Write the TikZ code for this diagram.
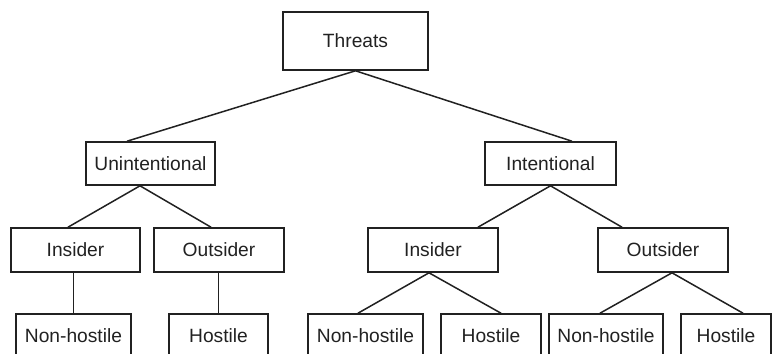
\documentclass[tikz,border=0pt]{standalone}
\usepackage{fontspec}
\setmainfont{Liberation Sans}
\usetikzlibrary{calc}
\definecolor{ink}{gray}{0.13}
\begin{document}
\begin{tikzpicture}[x=0.5pt,y=-0.5pt,
  bx/.style 2 args={draw=ink, text=ink, line width=0.8pt, inner sep=0pt,
    minimum width=#1*0.5pt, minimum height=#2*0.5pt,
    font=\fontsize{9.6pt}{11pt}\selectfont},
  link/.style={draw=ink, line width=0.75pt}]
\useasboundingbox (0,0) rectangle (773,354);
\clip (0,0) rectangle (773,354);
% root
\node[bx={145}{58}] (T) at (355.5,41) {Threats};
% second level
\node[bx={129}{43}] (U) at (150.5,163.5) {Unintentional};
\node[bx={131}{43}] (I) at (550.5,163.5) {Intentional};
% third level
\node[bx={129}{44}] (UI) at (75.5,250) {Insider};
\node[bx={130}{44}] (UO) at (219,250) {Outsider};
\node[bx={130}{44}] (II) at (433,250) {Insider};
\node[bx={130}{44}] (IO) at (663,250) {Outsider};
% leaves
\node[bx={115}{44}] (UIN) at (73.5,336) {Non-hostile};
\node[bx={99}{44}]  (UOH) at (218.5,336) {Hostile};
\node[bx={115}{44}] (IIN) at (365.5,336) {Non-hostile};
\node[bx={100}{44}] (IIH) at (491,336) {Hostile};
\node[bx={114}{44}] (ION) at (606,336) {Non-hostile};
\node[bx={90}{44}]  (IOH) at (726,336) {Hostile};
% connectors
\draw[link] (T.south) -- ($(U.north)+(-23.5,0)$);
\draw[link] (T.south) -- ($(I.north)+(21.5,0)$);
\draw[link] ($(U.south)+(-10.5,0)$) -- ($(UI.north)+(-7.5,0)$);
\draw[link] ($(U.south)+(-10.5,0)$) -- ($(UO.north)+(-8,0)$);
\draw[link] (UIN.north |- UI.south) -- (UIN.north);
\draw[link] (UOH.north |- UO.south) -- (UOH.north);
\draw[link] (I.south) -- ($(II.north)+(45,0)$);
\draw[link] (I.south) -- ($(IO.north)+(-41,0)$);
\draw[link] ($(II.south)+(-4,0)$) -- ($(IIN.north)+(-7.5,0)$);
\draw[link] ($(II.south)+(-4,0)$) -- ($(IIH.north)+(10,0)$);
\draw[link] ($(IO.south)+(9,0)$) -- ($(ION.north)+(-6,0)$);
\draw[link] ($(IO.south)+(9,0)$) -- ($(IOH.north)+(17,0)$);
\end{tikzpicture}
\end{document}
